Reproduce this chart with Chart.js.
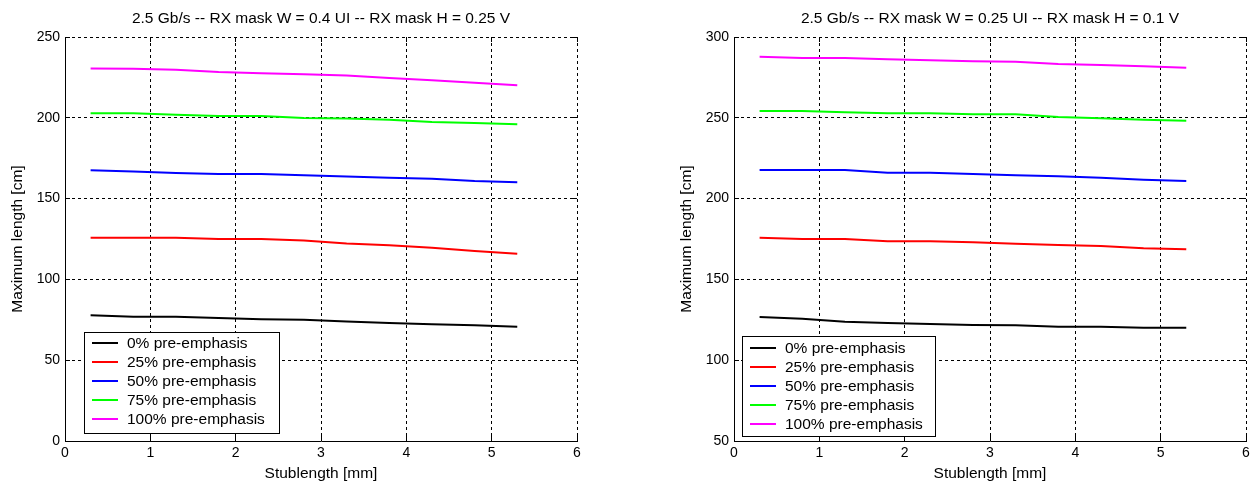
<!DOCTYPE html>
<html>
<head>
<meta charset="utf-8">
<title>Maximum length vs stublength</title>
<script src="https://cdn.jsdelivr.net/npm/chart.js@4.4.0/dist/chart.umd.min.js"></script>
<style>
    html, body { margin: 0; padding: 0; background: #fff; }
    #wrap { position: relative; width: 1257px; height: 483px; overflow: hidden; }
    canvas { position: absolute; top: 0; }
    #leftChart { left: 0; }
    #rightChart { left: 628px; }
</style>
</head>
<body>
<div id="wrap">
    <canvas id="leftChart" width="628" height="483"></canvas>
    <canvas id="rightChart" width="629" height="483"></canvas>
</div>
<script>
// Data
const stubLength = [0.3, 0.8, 1.3, 1.8, 2.3, 2.8, 3.3, 3.8, 4.3, 4.8, 5.3];
const seriesLabels = ['0% pre-emphasis', '25% pre-emphasis', '50% pre-emphasis', '75% pre-emphasis', '100% pre-emphasis'];
const xTicks = [0, 1, 2, 3, 4, 5, 6];

// W = 0.4 UI, H = 0.25 V
const leftPe0 = [77.8, 76.9, 76.9, 76.1, 75.3, 75.0, 74.0, 73.0, 72.2, 71.6, 70.7];
const leftPe25 = [125.8, 125.8, 125.8, 125.0, 125.0, 124.0, 122.2, 121.1, 119.6, 117.6, 115.9];
const leftPe50 = [167.5, 166.7, 165.8, 165.2, 165.2, 164.4, 163.6, 162.9, 162.3, 160.9, 160.1];
const leftPe75 = [202.8, 202.8, 201.9, 201.1, 201.1, 199.9, 199.5, 198.8, 197.4, 196.8, 196.0];
const leftPe100 = [230.5, 230.3, 229.8, 228.3, 227.5, 226.9, 226.1, 224.6, 223.2, 221.7, 220.1];
const leftYTicks = [0, 50, 100, 150, 200, 250];

// W = 0.25 UI, H = 0.1 V
const rightPe0 = [126.7, 125.6, 123.8, 123.0, 122.4, 121.8, 121.6, 120.7, 120.7, 120.1, 120.1];
const rightPe25 = [175.8, 175.0, 175.0, 173.6, 173.6, 173.0, 172.1, 171.3, 170.7, 169.2, 168.6];
const rightPe50 = [217.7, 217.7, 217.7, 216.0, 216.0, 215.2, 214.4, 213.8, 212.9, 211.7, 210.9];
const rightPe75 = [254.2, 254.2, 253.4, 252.8, 252.8, 252.2, 252.2, 250.5, 249.7, 248.8, 248.2];
const rightPe100 = [287.8, 287.0, 287.0, 286.2, 285.6, 285.0, 284.7, 283.3, 282.7, 281.9, 281.0];
const rightYTicks = [50, 100, 150, 200, 250, 300];

const lineColors = ['#000000', '#ff0000', '#0000ff', '#00ff00', '#ff00ff'];
const FONT = '"Liberation Sans", Arial, sans-serif';
const TEXT_SIZE = 15.5;

Chart.defaults.font.family = FONT;
Chart.defaults.color = '#000';

// Title centred over the plot area (not the whole canvas)
const plotTitle = {
    id: 'plotTitle',
    afterDraw(chart, args, opts) {
        const { ctx, chartArea: a } = chart;
        ctx.save();
        ctx.font = TEXT_SIZE + 'px ' + FONT;
        ctx.fillStyle = '#000';
        ctx.textAlign = 'center';
        ctx.textBaseline = 'middle';
        ctx.fillText(opts.text, (a.left + a.right) / 2, 19);
        ctx.restore();
    }
};

// Small inward tick marks like MATLAB axes
const innerTicks = {
    id: 'innerTicks',
    afterDatasetsDraw(chart) {
        const { ctx, chartArea: a, scales: { x, y } } = chart;
        const align = v => Math.round(v - 0.5) + 0.5;
        ctx.save();
        ctx.strokeStyle = '#000';
        ctx.lineWidth = 1;
        ctx.beginPath();
        x.ticks.forEach(t => {
            const px = align(x.getPixelForValue(t.value));
            ctx.moveTo(px, a.bottom); ctx.lineTo(px, a.bottom - 5);
            ctx.moveTo(px, a.top); ctx.lineTo(px, a.top + 5);
        });
        y.ticks.forEach(t => {
            const py = align(y.getPixelForValue(t.value));
            ctx.moveTo(a.left, py); ctx.lineTo(a.left + 5, py);
            ctx.moveTo(a.right, py); ctx.lineTo(a.right - 5, py);
        });
        ctx.stroke();
        ctx.restore();
    }
};

// Boxed legend inside the plot area
const boxLegend = {
    id: 'boxLegend',
    afterDatasetsDraw(chart, args, opts) {
        const { ctx } = chart;
        const { left, top, width, height, firstRow, rowHeight } = opts;
        ctx.save();
        ctx.fillStyle = '#fff';
        ctx.fillRect(left, top, width, height);
        ctx.strokeStyle = '#000';
        ctx.lineWidth = 1;
        ctx.strokeRect(left + 0.5, top + 0.5, width, height);
        ctx.font = TEXT_SIZE + 'px ' + FONT;
        ctx.textBaseline = 'middle';
        chart.data.datasets.forEach((ds, i) => {
            const cy = top + firstRow + i * rowHeight;
            ctx.strokeStyle = ds.borderColor;
            ctx.lineWidth = 2;
            ctx.beginPath();
            ctx.moveTo(left + 8, cy);
            ctx.lineTo(left + 34, cy);
            ctx.stroke();
            ctx.fillStyle = '#000';
            ctx.fillText(ds.label, left + 43, cy + 1);
        });
        ctx.restore();
    }
};

function buildDatasets(seriesList) {
    return seriesList.map((values, i) => ({
        label: seriesLabels[i],
        data: stubLength.map((x, j) => ({ x: x, y: values[j] })),
        borderColor: lineColors[i],
        backgroundColor: lineColors[i],
        borderWidth: 2,
        pointRadius: 0,
        tension: 0,
        fill: false
    }));
}

function makeChart(canvasId, title, seriesList, yTicks, padding, legendBox) {
    const ctx = document.getElementById(canvasId);
    return new Chart(ctx, {
        type: 'line',
        data: { datasets: buildDatasets(seriesList) },
        options: {
            responsive: false,
            animation: false,
            devicePixelRatio: 1,
            layout: { padding: padding },
            plugins: {
                legend: { display: false },
                tooltip: { enabled: false },
                title: { display: false },
                plotTitle: { text: title },
                boxLegend: legendBox
            },
            scales: {
                x: {
                    type: 'linear',
                    min: xTicks[0],
                    max: xTicks[xTicks.length - 1],
                    afterFit: s => { s.height = 42; },
                    afterBuildTicks: s => { s.ticks = xTicks.map(v => ({ value: v })); },
                    ticks: { padding: 4, font: { size: 14 }, color: '#000' },
                    grid: { color: '#000', lineWidth: 1, drawTicks: false },
                    border: { display: true, color: '#000', width: 1, dash: [3, 3] },
                    title: {
                        display: true,
                        text: 'Stublength [mm]',
                        font: { size: TEXT_SIZE },
                        padding: { top: 0, bottom: 0 }
                    }
                },
                y: {
                    type: 'linear',
                    min: yTicks[0],
                    max: yTicks[yTicks.length - 1],
                    afterFit: s => { s.width = 65; },
                    afterBuildTicks: s => { s.ticks = yTicks.map(v => ({ value: v })); },
                    ticks: { padding: 5, font: { size: 14 }, color: '#000' },
                    grid: { color: '#000', lineWidth: 1, drawTicks: false },
                    border: { display: true, color: '#000', width: 1, dash: [3, 3] },
                    title: {
                        display: true,
                        text: 'Maximum length [cm]',
                        font: { size: TEXT_SIZE },
                        padding: { top: 8.5, bottom: 0 }
                    }
                }
            }
        },
        plugins: [innerTicks, boxLegend, plotTitle]
    });
}

document.addEventListener('DOMContentLoaded', () => {
    makeChart(
        'leftChart',
        '2.5 Gb/s -- RX mask W = 0.4 UI -- RX mask H = 0.25 V',
        [leftPe0, leftPe25, leftPe50, leftPe75, leftPe100],
        leftYTicks,
        { left: 0, right: 51, top: 37, bottom: 0 },
        { left: 84, top: 332, width: 195, height: 101, firstRow: 11, rowHeight: 19 }
    );
    makeChart(
        'rightChart',
        '2.5 Gb/s -- RX mask W = 0.25 UI -- RX mask H = 0.1 V',
        [rightPe0, rightPe25, rightPe50, rightPe75, rightPe100],
        rightYTicks,
        { left: 41, right: 11, top: 37, bottom: 0 },
        { left: 114, top: 336, width: 193, height: 100, firstRow: 12, rowHeight: 19 }
    );
});
</script>
</body>
</html>
